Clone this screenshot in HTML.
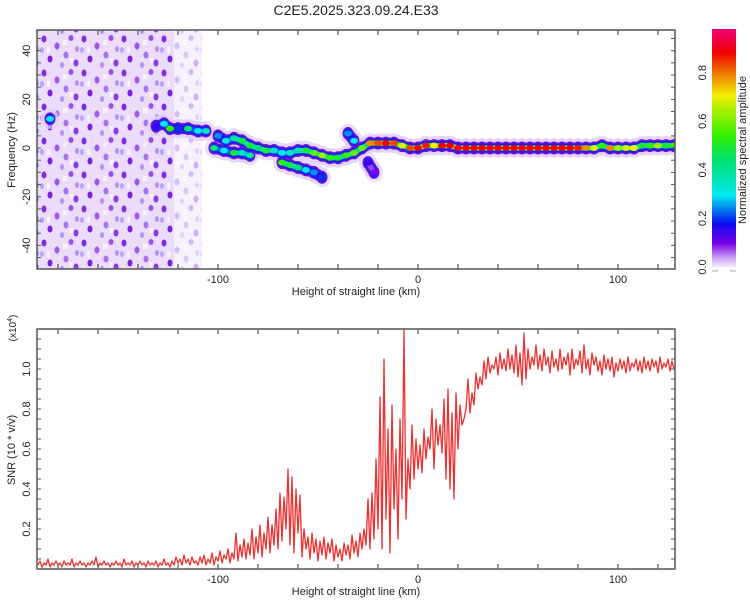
<!DOCTYPE html>
<html><head><meta charset="utf-8"><style>
body{margin:0;background:#fff;}
svg{display:block;font-family:"Liberation Sans",sans-serif;}
</style></head><body>
<svg id="fig" width="750" height="600" viewBox="0 0 750 600">
<defs>
<pattern id="noisePat" x="0" y="0" width="40" height="34" patternUnits="userSpaceOnUse">
<rect width="40" height="34" fill="#dcc4f7" opacity="0.6"/>
<ellipse cx="4" cy="5" rx="2.5" ry="3.5" fill="#6a0fd8" opacity="0.85"/>
<ellipse cx="17" cy="12" rx="2.5" ry="3.5" fill="#8a38e6" opacity="0.8"/>
<ellipse cx="31" cy="4" rx="2.5" ry="3" fill="#7a20e2" opacity="0.75"/>
<ellipse cx="10" cy="25" rx="2.5" ry="3.5" fill="#6000d8" opacity="0.85"/>
<ellipse cx="26" cy="21" rx="2.5" ry="3.5" fill="#9050ea" opacity="0.75"/>
<ellipse cx="36" cy="29" rx="2.5" ry="3.5" fill="#7010e0" opacity="0.8"/>
<ellipse cx="22" cy="31" rx="2" ry="3" fill="#a070f0" opacity="0.7"/>
<ellipse cx="37" cy="15" rx="2" ry="3" fill="#a070f0" opacity="0.7"/>
<ellipse cx="2" cy="16" rx="2" ry="3" fill="#b088f2" opacity="0.7"/>
<rect x="7" y="13" width="3" height="6" fill="#fff" opacity="0.7"/>
<rect x="23" y="6" width="4" height="5" fill="#fff" opacity="0.6"/>
<rect x="30" y="24" width="3" height="5" fill="#fff" opacity="0.6"/>
</pattern>
<linearGradient id="cbGrad" x1="0" y1="1" x2="0" y2="0">
<stop offset="0" stop-color="#f4ecfd"/><stop offset="0.04" stop-color="#c89ef2"/>
<stop offset="0.1" stop-color="#7a00e6"/><stop offset="0.18" stop-color="#0a0af0"/>
<stop offset="0.3" stop-color="#00e8f0"/><stop offset="0.45" stop-color="#00e070"/>
<stop offset="0.55" stop-color="#30f000"/><stop offset="0.72" stop-color="#f0f000"/>
<stop offset="0.82" stop-color="#f07000"/><stop offset="0.9" stop-color="#f00000"/>
<stop offset="1" stop-color="#f00078"/>
</linearGradient>
<clipPath id="clipTop"><rect x="37" y="30" width="638" height="239"/></clipPath>
<clipPath id="clipBot"><rect x="37" y="329" width="638" height="240"/></clipPath>
</defs>
<text x="356" y="15" text-anchor="middle" font-size="14" fill="#222">C2E5.2025.323.09.24.E33</text>
<g id="topPanel"></g>
<g id="botPanel"></g>
<g id="cbar"></g>
</svg>
<script>
// ---------- data ----------
const xDomain = [-190.5, 128.5];
const xTickLabels = [-100, 0, 100];
const freqTickLabels = [40, 20, 0, -20, -40];
const snrTickLabels = [0.2, 0.4, 0.6, 0.8, 1.0];
const cbTickLabels = [0.0, 0.2, 0.4, 0.6, 0.8];
// spectral track points
const trackX = [-184,-131,-127,-124,-120,-115,-110,-106,-100,-96,-92,-88,-84,-80,-76,-72,-68,-64,-60,-56,-52,-48,-44,-40,-36,-32,-28,-24,-20,-16,-12,-8,-4,
 0,4,8,12,16,20,24,28,32,36,40,44,48,52,56,60,64,68,72,76,80,84,88,92,96,100,104,108,112,116,120,124,128,
 -102,-97,-92,-88,-84,-68,-64,-60,-56,-52,-48,-35,-32,-25,-22];
const trackF = [12,9,10,8,8,8,7,7,5,3,4,3,1,0,-1,-1,-2,-2,-1,-1,-2,-3,-4,-4,-3,-2,0,2,2,2,2,1,0,
 0,1,1,1,1,0,0,0,0,0,0,0,0,0,0,0,0,0,0,0,0,0,0,1,0,0,0,0,1,1,1,1,1,
 0,-1,-2,-2,-3,-6,-7,-8,-9,-10,-12,6,3,-6,-10];
const trackA = [0.3,0.15,0.3,0.55,0.2,0.45,0.3,0.35,0.25,0.3,0.4,0.5,0.5,0.45,0.5,0.35,0.3,0.35,0.4,0.5,0.6,0.65,0.55,0.5,0.55,0.6,0.6,0.8,0.85,0.9,0.85,0.7,0.85,
 0.9,0.88,0.72,0.9,0.9,0.92,0.9,0.9,0.9,0.92,0.9,0.9,0.9,0.92,0.9,0.9,0.9,0.9,0.9,0.9,0.88,0.8,0.7,0.55,0.8,0.65,0.7,0.72,0.5,0.55,0.65,0.5,0.55,
 0.45,0.3,0.5,0.35,0.4,0.55,0.5,0.45,0.3,0.25,0.2,0.25,0.3,0.15,0.1];
// SNR (x10^4), one value per km starting at -190
const snrStart = -190;
const snrVals = [
0.02,0.04,0.01,0.03,0.02,0.05,0.01,0.03,0.02,0.04,0.02,0.03,0.01,0.04,0.02,0.03,0.02,0.05,0.01,0.03,
0.02,0.04,0.02,0.03,0.01,0.03,0.02,0.04,0.02,0.06,0.01,0.03,0.02,0.04,0.02,0.03,0.01,0.03,0.02,0.04,
0.02,0.03,0.01,0.05,0.02,0.03,0.02,0.04,0.01,0.03,0.02,0.04,0.02,0.03,0.01,0.04,0.02,0.03,0.02,0.04,
0.01,0.03,0.02,0.05,0.02,0.03,0.01,0.04,0.02,0.06,0.03,0.05,0.02,0.07,0.03,0.05,0.02,0.06,0.03,0.04,
0.02,0.06,0.03,0.07,0.02,0.05,0.03,0.08,0.02,0.06,0.04,0.09,0.03,0.07,0.05,0.1,0.03,0.08,0.05,0.18,
0.04,0.12,0.06,0.15,0.05,0.13,0.07,0.2,0.05,0.16,0.08,0.22,0.06,0.18,0.1,0.26,0.08,0.22,0.12,0.3,
0.1,0.38,0.14,0.36,0.2,0.5,0.12,0.46,0.08,0.4,0.18,0.37,0.06,0.2,0.1,0.16,0.05,0.18,0.08,0.15,
0.04,0.14,0.07,0.16,0.05,0.13,0.08,0.15,0.04,0.12,0.06,0.1,0.04,0.13,0.07,0.12,0.05,0.17,0.08,0.14,
0.06,0.18,0.1,0.2,0.12,0.35,0.1,0.38,0.15,0.55,0.2,0.86,0.1,1.05,0.25,0.7,0.08,0.82,0.3,0.6,
0.15,0.75,0.35,1.2,0.25,0.55,0.4,0.72,0.45,0.65,0.5,0.62,0.48,0.7,0.55,0.66,0.6,0.8,0.5,0.75,
0.62,0.72,0.58,0.85,0.45,0.9,0.4,0.78,0.35,0.88,0.6,0.82,0.72,0.75,0.8,0.95,0.78,0.88,0.82,0.98,
0.9,0.96,0.92,1.04,0.95,1.06,0.98,1.02,1.0,1.06,0.97,1.08,1.0,1.05,0.99,1.1,1.0,1.07,0.98,1.12,
0.96,1.08,0.92,1.18,0.95,1.1,1.0,1.06,1.02,1.12,1.0,1.07,0.99,1.1,1.02,1.06,0.98,1.09,1.01,1.05,
0.99,1.1,1.0,1.06,1.02,1.08,0.97,1.1,1.0,1.05,1.02,1.09,0.98,1.12,1.0,1.05,0.97,1.08,1.02,1.06,
0.99,1.04,0.97,1.07,1.0,1.05,0.99,1.06,0.96,1.03,0.99,1.05,1.0,1.04,0.98,1.06,0.99,1.03,1.01,1.05,
0.99,1.04,0.98,1.06,1.0,1.04,0.99,1.05,1.01,1.04,0.98,1.06,1.0,1.03,1.01,1.05,0.99,1.04,1.0];

// ---------- helpers ----------
const NS = "http://www.w3.org/2000/svg";
function mk(tag, attrs, parent){const e=document.createElementNS(NS,tag);for(const k in attrs)e.setAttribute(k,attrs[k]);parent.appendChild(e);return e;}
const X0=37, X1=675;
const xs = v => X0 + (v - xDomain[0]) / (xDomain[1]-xDomain[0]) * (X1-X0);
const TY0=30, TY1=269, fDom=[-49.7,48.5];
const fy = v => TY1 - (v - fDom[0])/(fDom[1]-fDom[0])*(TY1-TY0);
const BY0=329, BY1=569, sDom=[0,1.2];
const sy = v => BY1 - (v - sDom[0])/(sDom[1]-sDom[0])*(BY1-BY0);
const CB0=29, CB1=267;
const cy = v => CB1 - v/0.98*(CB1-CB0);
const stops=[[0,[244,236,253]],[0.04,[200,158,242]],[0.1,[122,0,230]],[0.18,[10,10,240]],[0.3,[0,232,240]],[0.45,[0,224,112]],[0.55,[48,240,0]],[0.72,[240,240,0]],[0.82,[240,112,0]],[0.9,[240,0,0]],[1,[240,0,120]]];
function cmap(a){for(let i=1;i<stops.length;i++){if(a<=stops[i][0]){const [p0,c0]=stops[i-1],[p1,c1]=stops[i];const t=(a-p0)/(p1-p0);return "rgb("+c0.map((c,j)=>Math.round(c+(c1[j]-c)*t)).join(",")+")";}}return "rgb(240,0,120)";}

function frame(g, y0, y1, name){
  const r = mk("rect",{x:X0,y:y0,width:X1-X0,height:y1-y0,fill:"none",stroke:"#555","stroke-width":1.5},g);
  
  
  for(let v=-180; v<=120; v+=20){
    const x=xs(v);
    mk("line",{x1:x,y1:y0,x2:x,y2:y0+5,stroke:"#555","stroke-width":1.2},g);
    mk("line",{x1:x,y1:y1,x2:x,y2:y1-5,stroke:"#555","stroke-width":1.2},g);
  }
  xTickLabels.forEach(v=>{
    const t=mk("text",{x:xs(v),y:y1+14,"text-anchor":"middle","font-size":11,fill:"#222"},g);
    t.textContent=v;
    
    
  });
  const xl=mk("text",{x:356,y:y1+26,"text-anchor":"middle","font-size":11,fill:"#222"},g);
  xl.textContent="Height of straight line (km)";
  
  
}

// ---------- top panel ----------
const topG = document.getElementById("topPanel");
const tp = mk("g",{"clip-path":"url(#clipTop)"},topG);
const nz = mk("rect",{x:X0,y:TY0,width:xs(-122)-X0,height:TY1-TY0,fill:"url(#noisePat)"},tp);


const nz2 = mk("rect",{x:xs(-122),y:TY0,width:xs(-108)-xs(-122),height:TY1-TY0,fill:"url(#noisePat)",opacity:0.4},tp);



// connecting segments between neighbouring track points (same branch)
const layers=[["#e2d0f8",18,0.7,"track-halo"],["#6a10dc",11,1,"track-edge"],["#1a20f0",8,1,"track-inner"]];
layers.forEach(([col,w,op,nm])=>{
  for(let i=0;i<trackX.length;i++){
    const h=mk("ellipse",{cx:xs(trackX[i]),cy:fy(trackF[i]),rx:w/2,ry:w/2+1,fill:col,opacity:op},tp);
    
    
    if(i+1<trackX.length && trackX[i+1]>trackX[i] && trackX[i+1]-trackX[i]<=5){
      const s=mk("line",{x1:xs(trackX[i]),y1:fy(trackF[i]),x2:xs(trackX[i+1]),y2:fy(trackF[i+1]),stroke:col,"stroke-width":w,opacity:op},tp);
      
      
    }
  }
});
for(let i=0;i<trackX.length;i++){
  if(i+1<trackX.length && trackX[i+1]>trackX[i] && trackX[i+1]-trackX[i]<=5){
    const a=Math.min(trackA[i],trackA[i+1]);
    const s=mk("line",{x1:xs(trackX[i]),y1:fy(trackF[i]),x2:xs(trackX[i+1]),y2:fy(trackF[i+1]),stroke:cmap(a*0.75),"stroke-width":5},tp);
    
    
  }
}
for(let i=0;i<trackX.length;i++){
  const a=trackA[i];
  const c=mk("ellipse",{cx:xs(trackX[i]),cy:fy(trackF[i]),rx:4,ry:3,fill:cmap(a)},tp);
  
  
}
frame(topG, TY0, TY1, "spectrogram-frame");
for(let v=-45; v<=45; v+=5){
  const y=fy(v);
  mk("line",{x1:X0,y1:y,x2:X0+4,y2:y,stroke:"#555"},topG);
  mk("line",{x1:X1,y1:y,x2:X1-4,y2:y,stroke:"#555"},topG);
}
freqTickLabels.forEach(v=>{
  const t=mk("text",{x:0,y:0,"text-anchor":"middle","font-size":11,fill:"#222",transform:`translate(30,${fy(v)}) rotate(-90)`},topG);
  t.textContent=v;
  
  
});
const fl=mk("text",{x:0,y:0,"text-anchor":"middle","font-size":11,fill:"#222",transform:"translate(15,150) rotate(-90)"},topG);
fl.textContent="Frequency (Hz)";



// ---------- bottom panel ----------
const botG = document.getElementById("botPanel");
const bp = mk("g",{"clip-path":"url(#clipBot)"},botG);
let d="";
snrVals.forEach((v,i)=>{d+=(i?"L":"M")+xs(snrStart+i).toFixed(1)+","+sy(v).toFixed(1);});
const ln=mk("path",{d:d,fill:"none",stroke:"#ee3030","stroke-width":1.3,"stroke-linejoin":"round"},bp);


frame(botG, BY0, BY1, "snr-frame");
for(let v=0.05; v<1.2; v+=0.05){
  const y=sy(v);
  mk("line",{x1:X0,y1:y,x2:X0+4,y2:y,stroke:"#555"},botG);
  mk("line",{x1:X1,y1:y,x2:X1-4,y2:y,stroke:"#555"},botG);
}
snrTickLabels.forEach(v=>{
  const t=mk("text",{x:0,y:0,"text-anchor":"middle","font-size":11,fill:"#222",transform:`translate(30,${sy(v)}) rotate(-90)`},botG);
  t.textContent=v.toFixed(1);
  
  
});
const sl=mk("text",{x:0,y:0,"text-anchor":"middle","font-size":11,fill:"#222",transform:"translate(15,450) rotate(-90)"},botG);
sl.textContent="SNR (10 * v/v)";


const ex=mk("text",{x:0,y:0,"text-anchor":"middle","font-size":10,fill:"#222",transform:"translate(16,328) rotate(-90)"},botG);
ex.innerHTML='(x10<tspan dy="-4" font-size="7">4</tspan><tspan dy="4">)</tspan>';



// ---------- colorbar ----------
const cb=document.getElementById("cbar");
const cr=mk("rect",{x:712,y:CB0,width:24,height:CB1-CB0,fill:"url(#cbGrad)"},cb);


mk("line",{x1:712,y1:271,x2:718,y2:271,stroke:"#aaa"},cb);
mk("line",{x1:730,y1:271,x2:736,y2:271,stroke:"#aaa"},cb);
cbTickLabels.forEach(v=>{
  const t=mk("text",{x:0,y:0,"text-anchor":"middle","font-size":11,fill:"#222",transform:`translate(706,${cy(v)}) rotate(-90)`},cb);
  t.textContent=v.toFixed(1);
  
  
});
const ct=mk("text",{x:0,y:0,"text-anchor":"middle","font-size":11,fill:"#222",transform:"translate(746,150) rotate(-90)"},cb);
ct.textContent="Normalized spectral amplitude";


</script>
</body></html>
